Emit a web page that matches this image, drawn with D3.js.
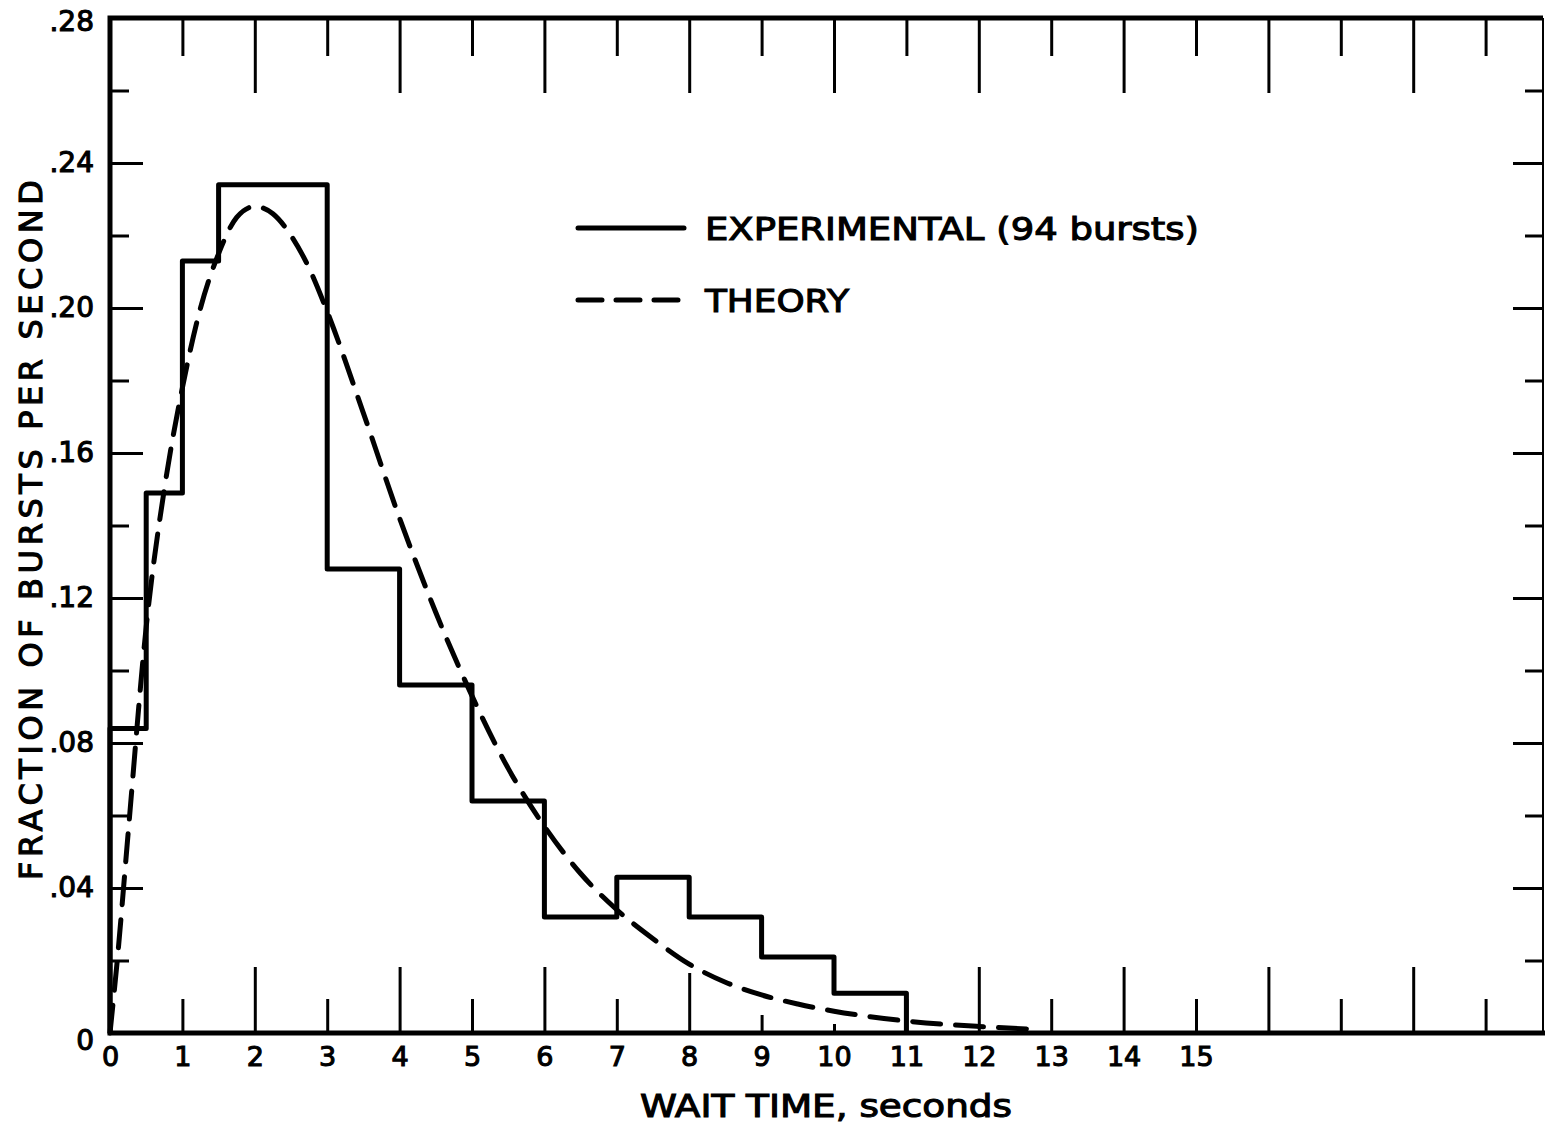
<!DOCTYPE html>
<html>
<head>
<meta charset="utf-8">
<title>Wait time distribution</title>
<script src="https://d3js.org/d3.v7.min.js"></script>
<style>
  body { margin: 0; background: #fff; }
  text { font-family: "DejaVu Sans", sans-serif; fill: #000; stroke: #000; stroke-width: 1.1px; }
</style>
</head>
<body>
<div class="chart"></div>
<script>
// histogram: bin edges in seconds, measured fraction of bursts per second
const binEdges = [0, 0.5, 1, 1.5, 3, 4, 5, 6, 7, 8, 9, 10, 11];
const binValues = [0.084, 0.149, 0.213, 0.234, 0.128, 0.096, 0.064, 0.032, 0.043, 0.032, 0.021, 0.011];

// theory curve, points
const theoryX = [0, 0.1, 0.25, 0.5, 0.75, 1, 1.25, 1.5, 1.75, 2, 2.25, 2.5, 2.75, 3, 3.5, 4, 4.5, 5, 5.5, 6, 6.5, 7, 7.5, 8, 8.5, 9, 9.5, 10, 10.5, 11, 12, 12.8];
const theoryY = [0, 0.02, 0.055, 0.112, 0.150, 0.178, 0.200, 0.215, 0.225, 0.228, 0.226, 0.220, 0.211, 0.199, 0.171, 0.142, 0.116, 0.093, 0.073, 0.057, 0.044, 0.034, 0.026, 0.019, 0.014, 0.0105, 0.008, 0.006, 0.0045, 0.0033, 0.0018, 0.001];

const xLabelValues = d3.range(0, 16);
const yLabelValues = [0, 0.04, 0.08, 0.12, 0.16, 0.20, 0.24, 0.28];
const yLabelText = ["0", ".04", ".08", ".12", ".16", ".20", ".24", ".28"];

const legendItems = ["EXPERIMENTAL (94 bursts)", "THEORY"];
const xTitle = "WAIT TIME, seconds";
const yTitle = "FRACTION OF BURSTS PER SECOND";

const W = 1545, H = 1127;
const mLeft = 110, mRight = 1543, mTop = 18, mBottom = 1033;

const svg = d3.select('.chart').append('svg')
    .attr('width', W)
    .attr('height', H);

const x = d3.scaleLinear().domain([0, 1]).range([mLeft, mLeft + 72.4]);
const y = d3.scaleLinear().domain([0, 0.28]).range([mBottom, mTop]);

const evens = d3.range(2, 20, 2), odds = d3.range(1, 20, 2);
const yMajor = [0.04, 0.08, 0.12, 0.16, 0.20, 0.24];
const yMinor = [0.02, 0.06, 0.10, 0.14, 0.18, 0.22, 0.26];

function tickGroup(axis, transform, w) {
    const g = svg.append('g').attr('transform', transform).call(axis);
    g.select('.domain').remove();
    g.selectAll('.tick line').attr('stroke', '#000').attr('stroke-width', w);
    g.selectAll('.tick text').remove();
    return g;
}

// ticks: long / short alternating, all pointing inward
const bEven = tickGroup(d3.axisBottom(x).tickValues(evens).tickSize(-66), `translate(0,${mBottom})`, 3);
const bOdd = tickGroup(d3.axisBottom(x).tickValues(odds).tickSize(-34), `translate(0,${mBottom})`, 3);
// near the curve the bottom ticks were drawn shorter
bEven.selectAll('.tick').filter(d => d === 8).select('line').attr('y2', -60);
bEven.selectAll('.tick').filter(d => d === 10).select('line').attr('y2', -9);
bOdd.selectAll('.tick').filter(d => d === 9).select('line').attr('y2', -18);
tickGroup(d3.axisTop(x).tickValues(evens).tickSize(-75), `translate(0,${mTop})`, 3);
tickGroup(d3.axisTop(x).tickValues(odds).tickSize(-38), `translate(0,${mTop})`, 3);
tickGroup(d3.axisLeft(y).tickValues(yMajor).tickSize(-33), `translate(${mLeft},0)`, 3);
tickGroup(d3.axisLeft(y).tickValues(yMinor).tickSize(-19), `translate(${mLeft},0)`, 3);
tickGroup(d3.axisRight(y).tickValues(yMajor).tickSize(-30), `translate(${mRight},0)`, 3);
tickGroup(d3.axisRight(y).tickValues(yMinor).tickSize(-18), `translate(${mRight},0)`, 3);

// frame
svg.append('path')
    .attr('d', `M${mRight},${mTop}H${mLeft}V${mBottom}H${W}`)
    .attr('fill', 'none').attr('stroke', '#000').attr('stroke-width', 5);
svg.append('line')
    .attr('x1', mRight).attr('x2', mRight).attr('y1', mTop).attr('y2', mBottom)
    .attr('stroke', '#000').attr('stroke-width', 2);

// tick labels
const xl = svg.append('g')
    .attr('transform', `translate(0,${mBottom})`)
    .call(d3.axisBottom(x).tickValues(xLabelValues).tickSize(0).tickPadding(14).tickFormat(d3.format('d')));
xl.select('.domain').remove();
xl.selectAll('text').style('font-size', '27px').attr('fill', '#000');

const yl = svg.append('g')
    .attr('transform', `translate(${mLeft},0)`)
    .call(d3.axisLeft(y).tickValues(yLabelValues).tickSize(0).tickPadding(16)
        .tickFormat((d, i) => yLabelText[i]));
yl.select('.domain').remove();
yl.selectAll('text').style('font-size', '28px').attr('fill', '#000');
yl.selectAll('.tick').filter(d => d === 0).select('text').attr('dy', '0.6em');
yl.selectAll('.tick').filter(d => d === 0.28).select('text').attr('dy', '0.45em');

// histogram (experimental)
const stepPts = [[0, 0]].concat(binValues.map((v, i) => [binEdges[i], v]), [[binEdges[binEdges.length - 1], 0]]);
svg.append('path')
    .datum(stepPts)
    .attr('fill', 'none')
    .attr('stroke', '#000')
    .attr('stroke-width', 5)
    .attr('stroke-linejoin', 'round')
    .attr('d', d3.line().x(d => x(d[0])).y(d => y(d[1])).curve(d3.curveStepAfter));

// theory curve
const theory = theoryX.map((t, i) => [t, theoryY[i]]);
svg.append('path')
    .datum(theory)
    .attr('fill', 'none')
    .attr('stroke', '#000')
    .attr('stroke-width', 5)
    .attr('stroke-linecap', 'round')
    .attr('stroke-dasharray', '28,15')
    .attr('d', d3.line().x(d => x(d[0])).y(d => y(d[1])).curve(d3.curveMonotoneX));

// legend
const legend = svg.append('g');
legendItems.forEach((name, i) => {
    const ly = 228 + i * 72;
    legend.append('line')
        .attr('x1', 578).attr('x2', 684).attr('y1', ly).attr('y2', ly)
        .attr('stroke', '#000').attr('stroke-width', 5).attr('stroke-linecap', 'round')
        .attr('stroke-dasharray', i === 1 ? '24,14' : null);
    legend.append('text')
        .attr('x', 705).attr('y', ly + 12)
        .attr('textLength', i === 0 ? 494 : 144)
        .attr('lengthAdjust', 'spacingAndGlyphs')
        .style('font-size', '32px')
        .text(name);
});

// axis titles
svg.append('text')
    .attr('x', 640).attr('y', 1117)
    .attr('textLength', 372)
    .attr('lengthAdjust', 'spacingAndGlyphs')
    .style('font-size', '32px')
    .text(xTitle);

svg.append('text')
    .attr('transform', 'translate(42,880) rotate(-90)')
    .attr('textLength', 700)
    .attr('lengthAdjust', 'spacing')
    .style('font-size', '32px')
    .text(yTitle);
</script>
</body>
</html>
